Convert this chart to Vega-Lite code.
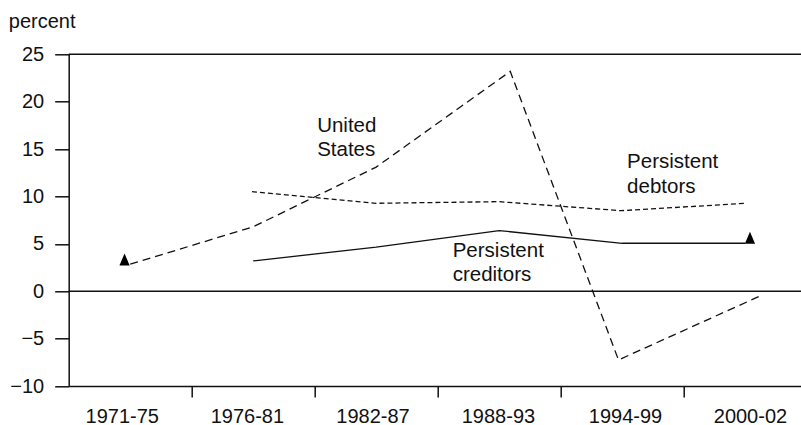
{
  "$schema": "https://vega.github.io/schema/vega-lite/v6.json",
  "width": 732.3,
  "height": 331.7,
  "autosize": {"type": "none"},
  "padding": {"left": 68.7, "top": 54.3, "right": 0, "bottom": 39},
  "background": "white",
  "config": {
    "view": {"stroke": null},
    "font": "Liberation Sans",
    "axis": {
      "labelFont": "Liberation Sans",
      "titleFont": "Liberation Sans",
      "labelFontSize": 20,
      "titleFontSize": 20,
      "labelColor": "#111",
      "titleColor": "#111",
      "domainColor": "#111",
      "tickColor": "#111",
      "domainWidth": 1.5,
      "tickWidth": 1.5,
      "grid": false,
      "titleFontWeight": "normal"
    }
  },
  "datasets": {
    "series": [
      {"series": "United States", "period": 0.5, "value": 2.85},
      {"series": "United States", "period": 1.5, "value": 6.8},
      {"series": "United States", "period": 2.5, "value": 13.1},
      {"series": "United States", "period": 3.59, "value": 23.2},
      {"series": "United States", "period": 4.47, "value": -7.25},
      {"series": "United States", "period": 5.61, "value": -0.57},
      {"series": "Persistent debtors", "period": 1.49, "value": 10.5},
      {"series": "Persistent debtors", "period": 2.5, "value": 9.28},
      {"series": "Persistent debtors", "period": 3.5, "value": 9.45},
      {"series": "Persistent debtors", "period": 4.49, "value": 8.5},
      {"series": "Persistent debtors", "period": 5.51, "value": 9.28},
      {"series": "Persistent creditors", "period": 1.5, "value": 3.2},
      {"series": "Persistent creditors", "period": 2.5, "value": 4.65},
      {"series": "Persistent creditors", "period": 3.5, "value": 6.4},
      {"series": "Persistent creditors", "period": 4.5, "value": 5.06},
      {"series": "Persistent creditors", "period": 5.5, "value": 5.06}
    ],
    "markers": [
      {"period": 0.454, "value": 3.35},
      {"period": 5.539, "value": 5.63}
    ],
    "refs": [
      {"value": 0},
      {"value": 25}
    ],
    "labels": [
      {"period": 2.02, "value": 16.84, "text": ["United", "States"]},
      {"period": 4.54, "value": 12.97, "text": ["Persistent", "debtors"]},
      {"period": 3.122, "value": 3.65, "text": ["Persistent", "creditors"]}
    ],
    "ticks": [
      {"period": 0.431, "label": "1971-75"},
      {"period": 1.449, "label": "1976-81"},
      {"period": 2.47, "label": "1982-87"},
      {"period": 3.49, "label": "1988-93"},
      {"period": 4.523, "label": "1994-99"},
      {"period": 5.539, "label": "2000-02"}
    ]
  },
  "resolve": {"axis": {"x": "independent"}},
  "layer": [
    {
      "data": {"name": "refs"},
      "mark": {"type": "rule", "color": "#111", "strokeWidth": 1.5},
      "encoding": {
        "y": {
          "field": "value",
          "type": "quantitative",
          "scale": {"domain": [-10, 25], "nice": false, "zero": false},
          "axis": {
            "values": [-10, -5, 0, 5, 10, 15, 20, 25],
            "tickSize": 14,
            "labelPadding": 11,
            "title": "percent",
            "titleAngle": 0,
            "titleAlign": "left",
            "titleBaseline": "alphabetic",
            "titleX": -60.4,
            "titleY": -27
          }
        }
      }
    },
    {
      "data": {"name": "series"},
      "transform": [{"filter": "datum.series === 'United States'"}],
      "mark": {"type": "line", "color": "#111", "strokeWidth": 1.3, "strokeDash": [8, 5]},
      "encoding": {
        "x": {
          "field": "period",
          "type": "quantitative",
          "scale": {"domain": [0, 5.954], "nice": false, "zero": false},
          "axis": {
            "orient": "bottom",
            "values": [1, 2, 3, 4, 5],
            "labels": false,
            "tickSize": 11,
            "title": null
          }
        },
        "y": {"field": "value", "type": "quantitative"}
      }
    },
    {
      "data": {"name": "series"},
      "transform": [{"filter": "datum.series === 'Persistent debtors'"}],
      "mark": {"type": "line", "color": "#111", "strokeWidth": 1.3, "strokeDash": [5, 3]},
      "encoding": {
        "x": {"field": "period", "type": "quantitative", "axis": null},
        "y": {"field": "value", "type": "quantitative"}
      }
    },
    {
      "data": {"name": "series"},
      "transform": [{"filter": "datum.series === 'Persistent creditors'"}],
      "mark": {"type": "line", "color": "#111", "strokeWidth": 1.3},
      "encoding": {
        "x": {"field": "period", "type": "quantitative", "axis": null},
        "y": {"field": "value", "type": "quantitative"}
      }
    },
    {
      "data": {"name": "markers"},
      "mark": {"type": "point", "shape": "M-0.85,1L0.85,1L0,-1Z", "filled": true, "color": "#000", "opacity": 1, "size": 144},
      "encoding": {
        "x": {"field": "period", "type": "quantitative", "axis": null},
        "y": {"field": "value", "type": "quantitative"}
      }
    },
    {
      "data": {"name": "labels"},
      "mark": {"type": "text", "align": "left", "baseline": "alphabetic", "fontSize": 20.5, "lineHeight": 24.3, "color": "#111", "font": "Liberation Sans"},
      "encoding": {
        "x": {"field": "period", "type": "quantitative", "axis": null},
        "y": {"field": "value", "type": "quantitative"},
        "text": {"field": "text"}
      }
    },
    {
      "data": {"name": "ticks"},
      "mark": {"type": "point", "opacity": 0},
      "encoding": {
        "x": {
          "field": "period",
          "type": "quantitative",
          "axis": {
            "orient": "bottom",
            "values": [0.431, 1.449, 2.47, 3.49, 4.523, 5.539],
            "labelExpr": "datum.value < 1 ? '1971-75' : datum.value < 2 ? '1976-81' : datum.value < 3 ? '1982-87' : datum.value < 4 ? '1988-93' : datum.value < 5 ? '1994-99' : '2000-02'",
            "ticks": false,
            "domain": false,
            "labelPadding": 20,
            "labelFlush": false,
            "labelOverlap": false,
            "labelBound": false,
            "title": null
          }
        },
        "y": {"datum": 0, "type": "quantitative"}
      }
    }
  ]
}
